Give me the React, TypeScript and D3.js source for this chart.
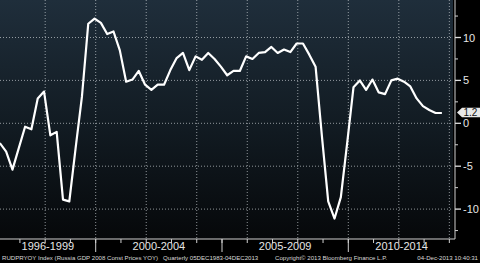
import React from "react";
import * as d3 from "d3";

const startYear = 1996;
const gdpYoY: number[] = [
  -2.3, -3.3, -5.4, -2.9,
  -0.4, -0.7, 2.9, 3.7,
  -1.4, -1.0, -8.9, -9.1,
  -2.9, 3.1, 11.6, 12.2,
  11.7, 10.4, 10.7, 8.5,
  4.85, 5.1, 6.1, 4.5,
  3.9, 4.5, 4.5, 6.2,
  7.6, 8.2, 6.2, 7.8,
  7.4, 8.2, 7.5, 6.6,
  5.6, 6.1, 6.1, 7.8,
  7.5, 8.2, 8.3, 8.9,
  8.2, 8.6, 8.3, 9.3,
  9.3, 8.0, 6.6, -1.5,
  -9.1, -11.1, -8.6, -2.3,
  4.2, 5.0, 3.9, 5.1,
  3.6, 3.4, 5.0, 5.2,
  4.85, 4.3, 2.9, 2.0,
  1.55, 1.2, 1.2,
];
const yTicks = [10, 5, 0, -5, -10];
const yMinor = [12.5, 7.5, 2.5, -2.5, -7.5, -12.5];
const gridYears = [1998, 2000, 2002, 2004, 2006, 2008, 2010, 2012, 2014];
const groupBounds = [2000, 2005, 2010];
const groupLabels = [
  { label: "1996-1999", from: 1996, to: 2000 },
  { label: "2000-2004", from: 2000, to: 2005 },
  { label: "2005-2009", from: 2005, to: 2010 },
  { label: "2010-2014", from: 2010, to: 2015 },
];
const lastLabel = "1.2";
const footerA = "RUDPRYOY Index (Russia GDP 2008 Const Prices YOY)";
const footerB = "Quarterly 05DEC1983-04DEC2013";
const footerMid = "Copyright\u00a9 2013 Bloomberg Finance L.P.";
const footerRight = "04-Dec-2013 10:40:31";

export default function App() {
  const W = 480, H = 263;
  const plotRight = 453;
  const axisX = 455;
  const axisY = 239;
  const x = d3.scaleLinear().domain([2000, 2010]).range([95.7, 348.3]);
  const y = d3.scaleLinear().domain([0, 10]).range([123.3, 37.5]);
  const pts: [number, number][] = gdpYoY.map((v, i) => [startYear + (i + 1) / 4 - 0.045, v]);
  const line = d3.line<[number, number]>().x(d => x(d[0])).y(d => y(d[1])).curve(d3.curveLinear);
  const years = d3.range(1997, 2015);
  const lastV = gdpYoY[gdpYoY.length - 1];
  const ly = y(lastV) - 0.5;
  const font = "'Liberation Sans', Arial, sans-serif";
  const fs = 6.1;
  return (
    <svg width={W} height={H} style={{ position: "absolute", left: 0, top: 0, display: "block" }}>
      <defs>
        <linearGradient id="bg" x1="0" y1="0" x2="0" y2="1">
          <stop offset="0%" stopColor="#1f2e3b" />
          <stop offset="55%" stopColor="#111a21" />
          <stop offset="100%" stopColor="#06080a" />
        </linearGradient>
        <clipPath id="clip">
          <rect x={0} y={0} width={plotRight} height={axisY} />
        </clipPath>
      </defs>
      <rect x={0} y={0} width={W} height={H} fill="#000" />
      <rect x={0} y={0} width={plotRight} height={axisY} fill="url(#bg)" />
      {yTicks.map(t => (
        <line key={"hg" + t} x1={0} x2={plotRight} y1={y(t)} y2={y(t)} stroke="#c8cdd2" strokeOpacity={0.7} strokeWidth={1} strokeDasharray="1,2" />
      ))}
      {gridYears.map(g => (
        <line key={"vg" + g} x1={x(g)} x2={x(g)} y1={0} y2={axisY} stroke="#c8cdd2" strokeOpacity={0.7} strokeWidth={1} strokeDasharray="1,2" />
      ))}
      <path d={line(pts) || ""} fill="none" stroke="#ffffff" strokeWidth={2.2} strokeLinejoin="round" clipPath="url(#clip)" />
      <line x1={0} x2={axisX} y1={axisY} y2={axisY} stroke="#d0d0d0" strokeWidth={1} />
      <line x1={axisX} x2={axisX} y1={0} y2={axisY} stroke="#d0d0d0" strokeWidth={1} />
      {years.map(yr => (
        <line key={"yt" + yr} x1={x(yr)} x2={x(yr)} y1={axisY} y2={axisY + 4} stroke="#d0d0d0" strokeWidth={1} />
      ))}
      {groupBounds.map(g => (
        <line key={"gb" + g} x1={x(g)} x2={x(g)} y1={axisY} y2={axisY + 13} stroke="#d0d0d0" strokeWidth={1} />
      ))}
      {groupLabels.map(g => {
        const a = Math.max(0, x(g.from));
        const b = Math.min(axisX, x(g.to));
        return (
          <text key={g.label} x={(a + b) / 2} y={250} fill="#e6e6e6" fontSize={11} fontFamily={font} textAnchor="middle">
            {g.label}
          </text>
        );
      })}
      {yMinor.map(t => (
        <line key={"ym" + t} x1={axisX} x2={axisX + 3} y1={y(t)} y2={y(t)} stroke="#d0d0d0" strokeWidth={1} />
      ))}
      {yTicks.map(t => (
        <g key={"yl" + t}>
          <line x1={axisX} x2={axisX + 6} y1={y(t)} y2={y(t)} stroke="#e0e0e0" strokeWidth={1.3} />
          <text x={axisX + 8} y={y(t) + 4} fill="#e6e6e6" fontSize={11} fontFamily={font}>
            {t}
          </text>
        </g>
      ))}
      <path d={`M${axisX + 2},${ly} L${axisX + 7},${ly - 4.7} L${W},${ly - 4.7} L${W},${ly + 4.7} L${axisX + 7},${ly + 4.7} Z`} fill="#e8e8e8" />
      <text x={axisX + 8.5} y={ly + 3.6} fill="#111" fontSize={10} fontFamily={font}>
        {lastLabel}
      </text>
      <text x={2} y={260} fill="#d8d8d8" fontSize={fs} fontFamily={font}>
        {footerA}
      </text>
      <text x={163} y={260} fill="#d8d8d8" fontSize={fs} fontFamily={font}>
        {footerB}
      </text>
      <text x={275} y={260} fill="#d8d8d8" fontSize={fs} fontFamily={font}>
        {footerMid}
      </text>
      <text x={478} y={260} fill="#d8d8d8" fontSize={fs} fontFamily={font} textAnchor="end">
        {footerRight}
      </text>
    </svg>
  );
}
